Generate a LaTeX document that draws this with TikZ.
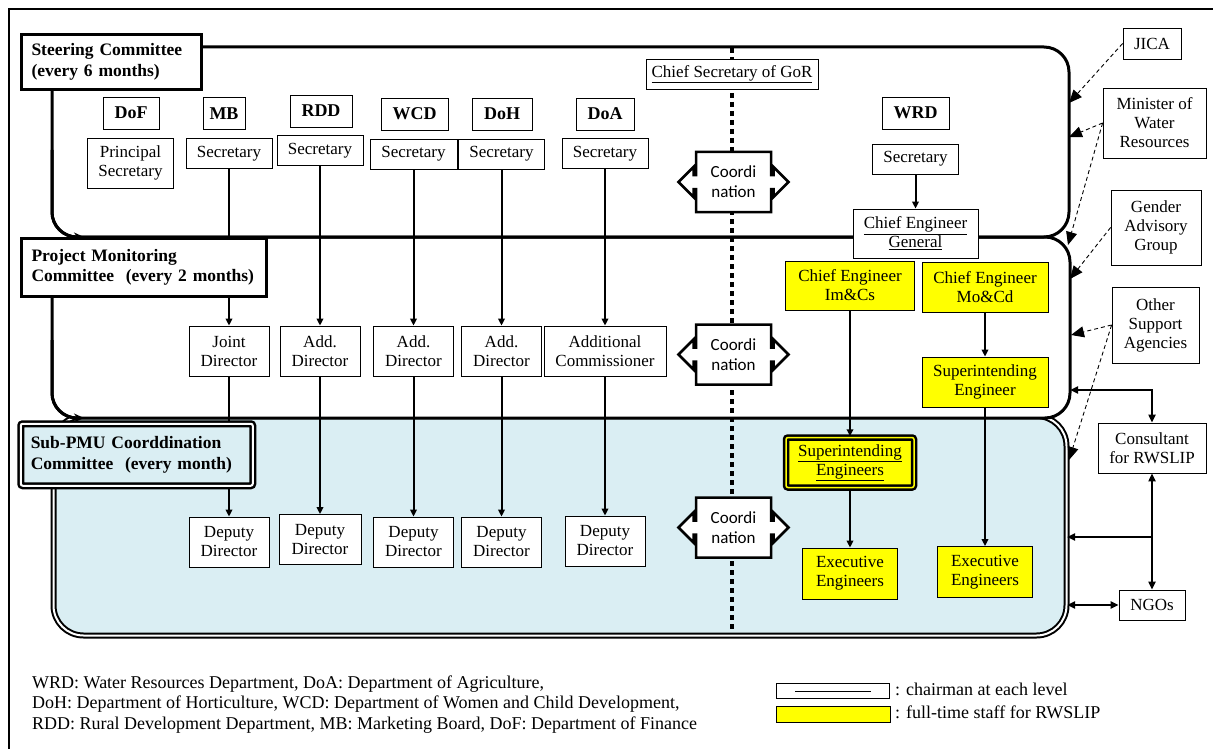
\documentclass[tikz,border=0pt]{standalone}
\usepackage{fontspec}
\setmainfont{Liberation Serif}
\newfontfamily\coordfont{Carlito}
\usetikzlibrary{arrows.meta}
\definecolor{staffYellow}{HTML}{FFFF00}
\definecolor{subBlue}{HTML}{DAEEF3}
\newcommand\boxfont{\fontsize{17}{19}\selectfont}
\newcommand\deptfont{\fontsize{18}{20}\selectfont\bfseries}
\newcommand\titlefont{\fontsize{17.5}{20.5}\selectfont\bfseries}
\newcommand\notefont{\fontsize{18}{20}\selectfont}

% left-right coordination arrow box
\tikzset{
  coordi/.pic={
    \draw[line width=2.5pt, fill=white] (-37.5,-30) -- (37.5,-30) -- (37.5,-7) -- (40,-7) -- (40,-15) -- (55,0)
      -- (40,15) -- (40,7) -- (37.5,7) -- (37.5,30) -- (-37.5,30) -- (-37.5,7) -- (-40,7) -- (-40,15)
      -- (-55,0) -- (-40,-15) -- (-40,-7) -- (-37.5,-7) -- cycle;
    \node[font=\coordfont\fontsize{17}{20}\selectfont, align=center, inner sep=0pt] (-txt) at (0,0) {Coordi\\nation};
  }
}

\begin{document}
\begin{tikzpicture}[x=1pt, y=-1pt, >={Triangle[length=7pt,width=6.5pt]},
    band/.style={line width=3pt, rounded corners=25pt},
    box/.style={draw, line width=0.8pt, fill=white, inner sep=0pt, align=center, font=\boxfont},
    dept/.style={box, font=\deptfont, minimum width=60pt, minimum height=32pt},
    sec/.style={box, minimum width=86pt, minimum height=30pt},
    dir/.style={box, minimum width=80pt, minimum height=50pt},
    staff/.style={box, fill=staffYellow, minimum width=126pt, minimum height=50pt},
    eng/.style={box, fill=staffYellow, minimum width=95pt, minimum height=51pt},
    title/.style={draw, line width=3pt, fill=white, anchor=north west, inner xsep=10pt, inner ysep=0pt, align=left, font=\titlefont},
    link/.style={line width=2pt, ->},
    hint/.style={line width=0.9pt, dash pattern=on 4pt off 3pt, -{Triangle[length=13pt,width=11pt]}},
    tie/.style={line width=2pt, {Triangle[length=8pt,width=7pt]}-{Triangle[length=8pt,width=7pt]}}]
  \useasboundingbox (0,0) rectangle (1213,749);
  \draw[line width=2pt] (9,749) -- (9,9) -- (1213,9);

  % the three committee levels
  \draw[line width=2pt, double=white, double distance=2pt, fill=subBlue, rounded corners=30pt] (53.5,416) rectangle (1066.5,635.5);
  \draw[band, fill=white] (52,237) rectangle (1070,418);
  \draw[band] (52,47) rectangle (1069,237);
  \draw[band, -{Stealth[length=10pt,width=9pt]}] (52,150) |- (84,237);
  \draw[band, -{Stealth[length=10pt,width=9pt]}] (52,340) |- (84,418);
  \draw[line width=3.5pt, dash pattern=on 5pt off 4pt] (732,48) -- (732,630);

  % departments
  \node[dept, minimum width=56pt] (dof) at (131,113) {DoF};
  \node[dept, minimum width=42pt] (mb) at (224,113.5) {MB};
  \node[dept, minimum width=62pt] (rdd) at (321,111) {RDD};
  \node[dept, minimum width=67pt] (wcd) at (414.5,114) {WCD};
  \node[dept] (doh) at (502,114) {DoH};
  \node[dept, minimum width=58pt] (doa) at (605,114) {DoA};
  \node[dept, minimum width=67pt] (wrd) at (915.5,113) {WRD};

  % steering level
  \node[sec, minimum height=50pt] (dofsec) at (130.5,163) {Principal\\Secretary};
  \node[sec] (mbsec) at (229,153.5) {Secretary};
  \node[sec] (rddsec) at (320,150.5) {Secretary};
  \node[sec, minimum width=87pt] (wcdsec) at (413.5,154) {Secretary};
  \node[sec] (dohsec) at (501.5,154) {Secretary};
  \node[sec] (doasec) at (605,153.5) {Secretary};
  \node[sec] (wrdsec) at (915.5,159) {Secretary};
  \node[sec, minimum width=172pt] (chiefsec) at (732,74) {\underline{Chief Secretary of GoR}};
  \node[sec, minimum width=125pt, minimum height=49pt] (ceg) at (915.5,233.5) {\underline{Chief Engineer}\\\underline{General}};

  % monitoring level
  \node[dir] (mbjd) at (229,351) {Joint\\Director};
  \node[dir] (rddad) at (320,351) {Add.\\Director};
  \node[dir] (wcdad) at (413.5,351) {Add.\\Director};
  \node[dir] (dohad) at (501.5,351) {Add.\\Director};
  \node[dir, minimum width=122pt] (doaad) at (605,351) {Additional\\Commissioner};
  \node[staff, minimum width=129pt, minimum height=49pt] (ceim) at (850,285.5) {Chief Engineer\\Im\&Cs};
  \node[staff] (cemo) at (985,287) {Chief Engineer\\Mo\&Cd};
  \node[staff] (sepmc) at (985,382) {Superintending\\Engineer};

  % sub-PMU level
  \node[dir] (mbdd) at (229,542) {Deputy\\Director};
  \node[dir, minimum width=82pt] (rdddd) at (320,539.5) {Deputy\\Director};
  \node[dir] (wcddd) at (413.5,542) {Deputy\\Director};
  \node[dir] (dohdd) at (501.5,542) {Deputy\\Director};
  \node[dir] (doadd) at (605,541) {Deputy\\Director};
  \node[box, fill=staffYellow, line width=2.5pt, double=staffYellow, double distance=1.5pt, rounded corners=2pt,
        minimum width=128pt, minimum height=50pt] (sesub) at (850,462.5) {\underline{Superintending}\\\underline{Engineers}};
  \node[eng] (eeim) at (850,573.5) {Executive\\Engineers};
  \node[eng] (eemo) at (985,572) {Executive\\Engineers};

  % outside bodies
  \node[box, minimum width=58pt, minimum height=31pt] (jica) at (1152,43.5) {JICA};
  \node[box, minimum width=103pt, minimum height=70pt] (minister) at (1154.5,123) {Minister of\\Water\\Resources};
  \node[box, minimum width=90pt, minimum height=75pt] (gender) at (1156,227.5) {Gender\\Advisory\\Group};
  \node[box, minimum width=87pt, minimum height=76pt] (other) at (1155.5,325) {Other\\Support\\Agencies};
  \node[box, minimum width=108pt, minimum height=50pt] (consult) at (1152,448) {Consultant\\for RWSLIP};
  \node[box, minimum width=66pt, minimum height=30pt] (ngos) at (1152,605) {NGOs};

  \coordinate (sc-jica) at (1069,103);
  \coordinate (sc-min) at (1069,137);
  \coordinate (pm-min) at (1068,245);
  \coordinate (pm-gag) at (1070,279);
  \coordinate (pm-osa) at (1071,335);
  \coordinate (sp-osa) at (1069,460);
  \coordinate (pm-con) at (1070,390);
  \coordinate (sp-con) at (1067,537);
  \coordinate (sp-ngo) at (1067,605);
  \coordinate (con-tap) at (1152,537);

  % reporting lines
  \foreach \a/\b in {mbsec/mbjd, mbjd/mbdd, rddsec/rddad, rddad/rdddd, wcdsec/wcdad, wcdad/wcddd,
                     dohsec/dohad, dohad/dohdd, doasec/doaad, doaad/doadd, wrdsec/ceg,
                     ceim/sesub, sesub/eeim, cemo/sepmc, sepmc/eemo}
    \draw[link] (\a) -- (\b);

  \draw[hint] (jica.west) -- (sc-jica);
  \draw[hint] (minister.west) -- (sc-min);
  \draw[hint] (minister.west) -- (pm-min);
  \draw[hint] (gender.west) -- (pm-gag);
  \draw[hint] (other.west) -- (pm-osa);
  \draw[hint] (other.west) -- (sp-osa);
  \draw[tie] (pm-con) -| (consult.north);
  \draw[tie] (consult.south) -- (ngos.north);
  \draw[line width=2pt, -{Triangle[length=8pt,width=7pt]}] (con-tap) -- (sp-con);
  \draw[tie] (ngos.west) -- (sp-ngo);

  % committee titles
  \node[title, text width=160pt, minimum height=55pt] (steer) at (20,33) {Steering Committee\\(every 6 months)};
  \node[title, text width=225pt, minimum height=58pt] (pmc) at (20,237) {Project Monitoring\\Committee~ (every 2 months)};
  \node[title, line width=2.5pt, double=white, double distance=2pt, fill=subBlue, rounded corners=2pt,
        text width=212pt, minimum height=62pt] (subpmu) at (19.5,422.5) {Sub-PMU Coorddination\\Committee~ (every month)};

  \pic (co1) at (733.5,182) {coordi};
  \pic (co2) at (733.5,354.5) {coordi};
  \pic (co3) at (733.5,527.5) {coordi};

  % abbreviations and legend
  \node[font=\notefont, anchor=west, inner sep=0pt] (abbr1) at (32,684) {WRD: Water Resources Department, DoA: Department of Agriculture,};
  \node[font=\notefont, anchor=west, inner sep=0pt] (abbr2) at (32,704) {DoH: Department of Horticulture, WCD: Department of Women and Child Development,};
  \node[font=\notefont, anchor=west, inner sep=0pt] (abbr3) at (32,725) {RDD: Rural Development Department, MB: Marketing Board, DoF: Department of Finance};
  \node[draw, line width=1.5pt, minimum width=113pt, minimum height=15pt, inner sep=0pt] (keychair) at (833,691) {\underline{\hspace{76pt}}};
  \node[draw, line width=0.8pt, fill=staffYellow, minimum width=114pt, minimum height=16pt, inner sep=0pt] (keystaff) at (833,714) {};
  \node[font=\notefont, anchor=west, inner sep=0pt] (keychairtxt) at (895,689) {: chairman at each level};
  \node[font=\notefont, anchor=west, inner sep=0pt] (keystafftxt) at (895,712) {: full-time staff for RWSLIP};
\end{tikzpicture}
\end{document}
